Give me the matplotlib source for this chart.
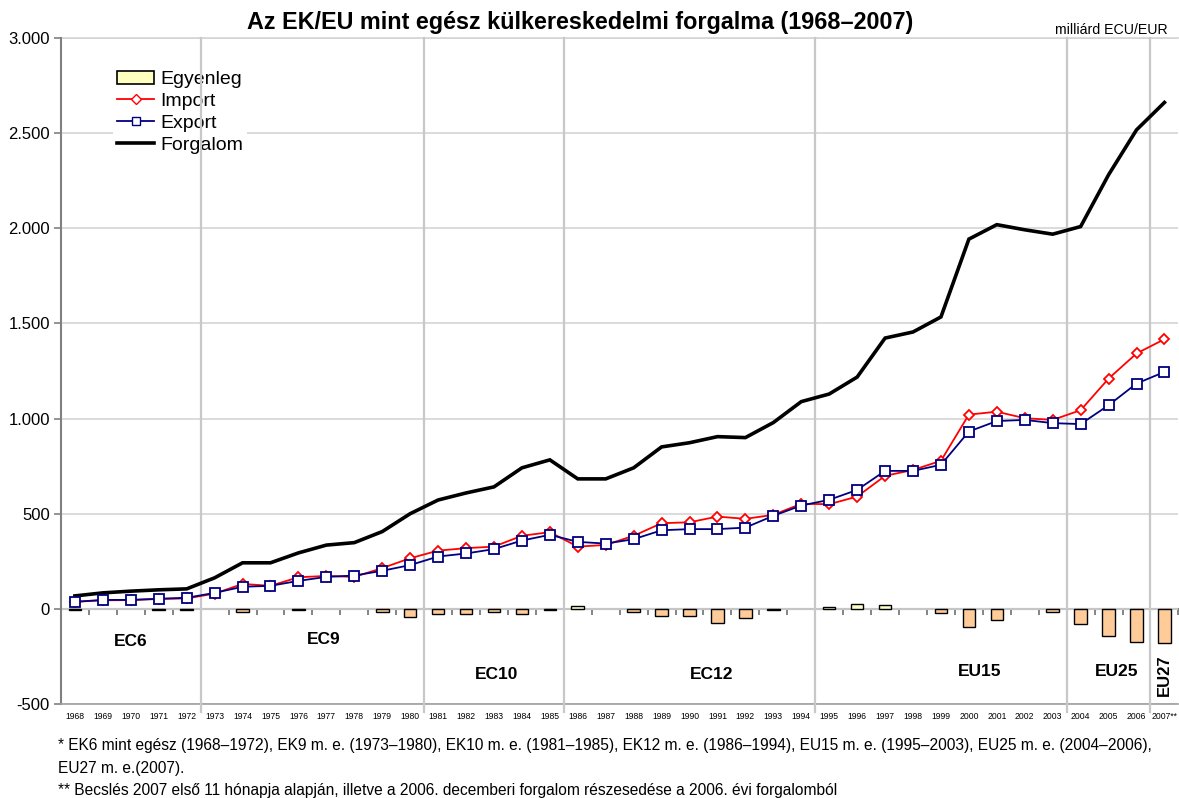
# -*- coding: utf-8 -*-
# Az EK/EU kulkereskedelmi forgalma 1968-2007
import numpy as np
import matplotlib
matplotlib.use('Agg')
import matplotlib.pyplot as plt
from matplotlib.ticker import FuncFormatter
from matplotlib.patches import Patch
from matplotlib.lines import Line2D

plt.rcParams['font.family'] = ['Liberation Sans', 'DejaVu Sans']

# ---------------------------------------------------------------- data
years = ['1968', '1969', '1970', '1971', '1972', '1973', '1974', '1975',
         '1976', '1977', '1978', '1979', '1980', '1981', '1982', '1983',
         '1984', '1985', '1986', '1987', '1988', '1989', '1990', '1991',
         '1992', '1993', '1994', '1995', '1996', '1997', '1998', '1999',
         '2000', '2001', '2002', '2003', '2004', '2005', '2006', '2007**']

egyenleg = [-7, 0, 0, -7, -7, 0, -19, 0, -6, 0, 0, -18, -44, -26, -27, -18,
            -26, -6, 16, 0, -17, -35, -40, -72, -48, -6, 0, 12, 26, 19, 0,
            -24, -97, -58, 0, -16, -78, -142, -175, -182]

importv = [37, 45, 46, 52, 55, 80, 131, 121, 166, 173, 168, 214, 266, 306,
           319, 327, 384, 403, 327, 336, 384, 450, 455, 485, 473, 494, 552,
           550, 590, 699, 730, 778, 1021, 1036, 1002, 993, 1044, 1210, 1342,
           1417]

exportv = [37, 47, 47, 53, 58, 84, 116, 121, 147, 168, 175, 200, 230, 275,
           291, 314, 359, 389, 352, 343, 366, 413, 419, 419, 427, 489, 543,
           573, 625, 725, 725, 757, 932, 987, 993, 976, 971, 1070, 1184,
           1245]

forgalom = [68, 84, 93, 100, 105, 163, 242, 242, 294, 335, 348, 406, 500,
            572, 609, 641, 741, 783, 683, 683, 741, 851, 873, 905, 900, 979,
            1089, 1129, 1218, 1423, 1455, 1534, 1943, 2019, 1992, 1969, 2009,
            2281, 2517, 2661]

# periods: label, first index
periods = ['EC6', 'EC9', 'EC10', 'EC12', 'EU15', 'EU25', 'EU27']
period_start = [0, 5, 13, 18, 27, 36, 39]

footnote1 = ('* EK6 mint egész (1968–1972), EK9 m. e. (1973–1980), EK10 m. e. '
             '(1981–1985), EK12 m. e. (1986–1994), EU15 m. e. (1995–2003), '
             'EU25 m. e. (2004–2006),')
footnote2 = 'EU27 m. e.(2007).'
footnote3 = ('** Becslés 2007 első 11 hónapja alapján, illetve a 2006. '
             'decemberi forgalom részesedése a 2006. évi forgalomból')

# ---------------------------------------------------------------- figure
x = np.arange(len(years))
eg = np.array(egyenleg, dtype=float)
ymin, ymax = -500, 3000

fig = plt.figure(figsize=(11.79, 7.98), dpi=100)
ax = fig.add_axes([0.0517, 0.1178, 0.9478, 0.8346])
ax.set_xlim(-0.5, len(years) - 0.5)
ax.set_ylim(ymin, ymax)

# horizontal grid
ax.set_yticks(np.arange(ymin, ymax + 1, 500))
ax.yaxis.set_major_formatter(FuncFormatter(
    lambda v, p: '{:,.0f}'.format(v).replace(',', '.')))
ax.grid(axis='y', color='#d4d4d4', lw=1.2, zorder=0)
ax.set_axisbelow(True)
ax.tick_params(axis='y', length=5, width=1.2, color='#808080',
               labelsize=12, pad=3)

# spines
for s in ['top', 'right']:
    ax.spines[s].set_visible(False)
ax.spines['left'].set_color('#808080')
ax.spines['left'].set_linewidth(1.5)
ax.spines['bottom'].set_color('#a0a0a0')
ax.spines['bottom'].set_linewidth(1.2)
ax.axhline(ymax, color='#d4d4d4', lw=1.2, clip_on=False, zorder=0)

# year labels at the bottom
ax.set_xticks(x)
ax.set_xticklabels(years, fontsize=6.2)
ax.tick_params(axis='x', length=0, pad=6)

# zero axis with tick marks between categories
sec = ax.secondary_xaxis((0 - ymin) / (ymax - ymin))
sec.set_xticks(np.arange(-0.5, len(years), 1))
sec.tick_params(axis='x', length=4, width=1.2, color='#707070',
                labelbottom=False)
sec.spines['bottom'].set_color('#808080')
sec.spines['bottom'].set_linewidth(1.5)

# period separators
for i in period_start[1:]:
    ax.axvline(i - 0.5, ymin=-0.012, color='#c8c8c8', lw=1.6,
               clip_on=False, zorder=6)

# bars (Egyenleg)
mask = eg != 0
cols = np.where(eg[mask] > 0, '#ffffcc', '#ffcc99')
ax.bar(x[mask], eg[mask], width=0.45, color=cols, edgecolor='black',
       lw=1.0, zorder=6.5)

# lines
ax.plot(x, forgalom, '-', color='black', lw=2.6, zorder=7,
        solid_joinstyle='miter')
ax.plot(x, importv, '-', color='#ff0000', lw=1.3, marker='D', ms=5.5,
        mfc='white', mec='#ff0000', mew=1.3, zorder=8)
ax.plot(x, exportv, '-', color='#000080', lw=1.3, marker='s', ms=7,
        mfc='white', mec='#000080', mew=1.3, zorder=9)

# legend
handles = [Patch(facecolor='#ffffc0', edgecolor='black', lw=1.2),
           Line2D([], [], color='#ff0000', lw=1.3, marker='D', ms=5,
                  mfc='white', mec='#ff0000'),
           Line2D([], [], color='#000080', lw=1.3, marker='s', ms=6,
                  mfc='white', mec='#000080'),
           Line2D([], [], color='black', lw=2.6)]
leg = ax.legend(handles, ['Egyenleg', 'Import', 'Export', 'Forgalom'],
                loc='upper left', bbox_to_anchor=(0.047, 0.957),
                fontsize=14, frameon=True, framealpha=1,
                edgecolor='none', fancybox=False, handlelength=1.9,
                handletextpad=0.3, labelspacing=0.22, borderpad=0.2,
                borderaxespad=0)
leg.set_zorder(5)

# period labels
label_x = [2, 8.9, 15.1, 22.8, 32.4, 37.3, 39]
label_y = [-173, -163, -347, -347, -331, -331, -347]
for k, lab in enumerate(periods):
    if lab == 'EU27':
        ax.text(label_x[k], label_y[k], lab, ha='center', va='center',
                rotation=90, fontsize=12, fontweight='bold', zorder=10)
    else:
        ax.text(label_x[k], label_y[k], lab, ha='center', va='center',
                fontsize=12.5, fontweight='bold', zorder=10)

# title and notes
fig.text(0.492, 0.972, 'Az EK/EU mint egész külkereskedelmi forgalma (1968–2007)',
         ha='center', va='center', fontsize=16.8, fontweight='bold')
fig.text(0.9907, 0.962, 'milliárd ECU/EUR', ha='right', va='center',
         fontsize=10.2)
fig.text(0.049, 0.066, footnote1, ha='left', va='center', fontsize=11.2)
fig.text(0.049, 0.037, footnote2, ha='left', va='center', fontsize=11.2)
fig.text(0.049, 0.010, footnote3, ha='left', va='center', fontsize=11.2)

fig.savefig('out.png', dpi=100)
